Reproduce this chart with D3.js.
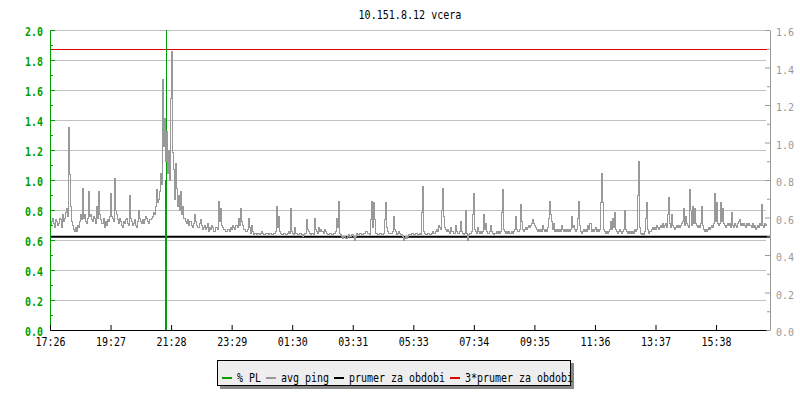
<!DOCTYPE html>
<html>
<head>
<meta charset="utf-8">
<script src="https://cdn.jsdelivr.net/npm/d3@7"></script>
<style>
  html, body { margin: 0; padding: 0; background: #fff; }
  svg { display: block; }
</style>
</head>
<body>
<svg id="chart" width="800" height="400"></svg>
<script>
var title = '10.151.8.12 vcera';
var timeLabels = ['17:26', '19:27', '21:28', '23:29', '01:30', '03:31', '05:33', '07:34', '09:35', '11:36', '13:37', '15:38'];
var tickStep = 121.1;   // minutes between time labels
var sampleStep = 2;     // minutes between ping samples
var leftTicks = [0, 0.2, 0.4, 0.6, 0.8, 1.0, 1.2, 1.4, 1.6, 1.8, 2.0];
var leftMinor = [0.1, 0.3, 0.5, 0.7, 0.9, 1.1, 1.3, 1.5, 1.7, 1.9];
var rightTicks = [0, 0.2, 0.4, 0.6, 0.8, 1.0, 1.2, 1.4, 1.6];
var rightMinor = [0.1, 0.3, 0.5, 0.7, 0.9, 1.1, 1.3, 1.5];

// avg ping (right axis), one value per sample
var ping = [
  0.56,0.58,0.60,0.57,0.55,0.59,0.58,0.56,0.57,0.60,0.59,0.55,0.62,0.58,0.60,0.63,0.65,0.61,1.08,0.83,
  0.66,0.58,0.56,0.54,0.53,0.55,0.53,0.56,0.55,0.58,0.62,0.59,0.76,0.60,0.62,0.58,0.57,0.60,0.74,0.61,
  0.62,0.59,0.58,0.61,0.60,0.57,0.66,0.60,0.74,0.62,0.59,0.57,0.57,0.60,0.55,0.58,0.56,0.59,0.58,0.61,
  0.73,0.61,0.60,0.58,0.81,0.64,0.62,0.59,0.57,0.60,0.58,0.56,0.55,0.58,0.57,0.59,0.60,0.57,0.56,0.72,
  0.60,0.58,0.56,0.57,0.59,0.56,0.55,0.58,0.64,0.60,0.58,0.57,0.59,0.57,0.59,0.61,0.60,0.58,0.57,0.59,
  0.59,0.60,0.61,0.63,0.62,0.66,0.75,0.68,0.70,0.74,0.84,0.78,1.34,0.98,1.13,0.90,1.06,0.84,0.96,0.80,
  1.24,1.49,0.95,0.86,0.70,0.89,0.76,0.66,0.72,0.64,0.74,0.62,0.66,0.60,0.60,0.58,0.57,0.59,0.56,0.58,
  0.58,0.56,0.55,0.57,0.62,0.58,0.56,0.55,0.55,0.57,0.59,0.56,0.54,0.55,0.56,0.54,0.55,0.57,0.53,0.55,
  0.54,0.56,0.55,0.53,0.53,0.55,0.55,0.54,0.69,0.58,0.65,0.56,0.55,0.54,0.54,0.53,0.53,0.54,0.54,0.53,
  0.55,0.54,0.56,0.55,0.54,0.56,0.56,0.55,0.60,0.56,0.65,0.58,0.56,0.54,0.54,0.53,0.53,0.54,0.60,0.55,
  0.52,0.56,0.53,0.51,0.52,0.52,0.51,0.52,0.52,0.51,0.52,0.53,0.52,0.51,0.51,0.52,0.52,0.52,0.51,0.52,
  0.52,0.51,0.51,0.52,0.52,0.53,0.66,0.55,0.61,0.53,0.52,0.51,0.51,0.52,0.52,0.51,0.51,0.52,0.53,0.52,
  0.65,0.53,0.52,0.51,0.55,0.52,0.52,0.51,0.51,0.52,0.52,0.51,0.50,0.51,0.52,0.52,0.59,0.54,0.53,0.52,
  0.51,0.52,0.52,0.51,0.60,0.54,0.53,0.52,0.55,0.53,0.54,0.53,0.53,0.52,0.54,0.53,0.52,0.51,0.51,0.52,
  0.52,0.51,0.51,0.52,0.52,0.53,0.60,0.55,0.69,0.52,0.51,0.50,0.49,0.50,0.50,0.49,0.49,0.50,0.51,0.50,
  0.50,0.51,0.51,0.50,0.48,0.50,0.52,0.51,0.51,0.52,0.52,0.51,0.51,0.52,0.52,0.53,0.53,0.52,0.52,0.51,
  0.59,0.69,0.55,0.68,0.59,0.52,0.52,0.51,0.51,0.52,0.52,0.51,0.51,0.52,0.59,0.68,0.55,0.53,0.52,0.52,
  0.52,0.52,0.53,0.61,0.54,0.53,0.51,0.52,0.53,0.52,0.51,0.51,0.50,0.48,0.49,0.50,0.49,0.50,0.51,0.51,
  0.51,0.52,0.52,0.51,0.51,0.52,0.52,0.51,0.51,0.52,0.51,0.63,0.77,0.53,0.52,0.51,0.51,0.52,0.52,0.51,
  0.51,0.52,0.53,0.52,0.52,0.53,0.54,0.53,0.56,0.55,0.54,0.64,0.76,0.61,0.55,0.54,0.53,0.54,0.53,0.52,
  0.55,0.53,0.53,0.52,0.52,0.56,0.53,0.52,0.52,0.53,0.58,0.53,0.52,0.51,0.52,0.64,0.52,0.48,0.51,0.52,
  0.52,0.53,0.62,0.73,0.54,0.53,0.52,0.55,0.53,0.52,0.53,0.52,0.53,0.62,0.54,0.57,0.53,0.52,0.52,0.53,
  0.56,0.53,0.52,0.51,0.52,0.52,0.53,0.52,0.53,0.52,0.53,0.63,0.75,0.54,0.53,0.52,0.53,0.52,0.53,0.52,
  0.52,0.53,0.52,0.53,0.54,0.61,0.54,0.53,0.53,0.54,0.67,0.58,0.54,0.53,0.54,0.55,0.54,0.55,0.56,0.55,
  0.56,0.57,0.59,0.57,0.56,0.55,0.54,0.53,0.54,0.53,0.54,0.53,0.56,0.54,0.53,0.54,0.53,0.55,0.60,0.69,
  0.62,0.58,0.54,0.57,0.53,0.54,0.53,0.54,0.53,0.54,0.53,0.56,0.54,0.53,0.54,0.53,0.54,0.53,0.54,0.53,
  0.54,0.61,0.55,0.56,0.54,0.53,0.54,0.60,0.69,0.56,0.53,0.52,0.53,0.54,0.53,0.54,0.53,0.56,0.54,0.57,
  0.57,0.53,0.54,0.53,0.54,0.55,0.53,0.54,0.53,0.54,0.68,0.84,0.68,0.54,0.53,0.52,0.53,0.52,0.53,0.54,
  0.58,0.54,0.60,0.55,0.63,0.54,0.53,0.52,0.53,0.54,0.53,0.52,0.53,0.54,0.64,0.54,0.53,0.52,0.53,0.52,
  0.53,0.52,0.53,0.52,0.54,0.53,0.54,0.72,0.90,0.55,0.52,0.51,0.52,0.51,0.53,0.60,0.68,0.54,0.52,0.53,
  0.53,0.54,0.55,0.54,0.55,0.54,0.56,0.55,0.54,0.55,0.56,0.55,0.57,0.55,0.56,0.57,0.55,0.62,0.71,0.57,
  0.55,0.62,0.56,0.55,0.54,0.55,0.56,0.55,0.56,0.55,0.56,0.57,0.58,0.65,0.56,0.61,0.57,0.56,0.55,0.75,
  0.64,0.56,0.66,0.57,0.65,0.57,0.56,0.55,0.56,0.55,0.57,0.66,0.56,0.54,0.53,0.54,0.53,0.54,0.55,0.54,
  0.55,0.56,0.55,0.57,0.73,0.58,0.68,0.57,0.56,0.57,0.68,0.58,0.65,0.57,0.56,0.55,0.56,0.57,0.56,0.57,
  0.55,0.63,0.56,0.55,0.57,0.56,0.55,0.57,0.58,0.59,0.56,0.57,0.56,0.57,0.56,0.55,0.57,0.56,0.57,0.56,
  0.56,0.55,0.57,0.55,0.56,0.54,0.55,0.56,0.55,0.57,0.56,0.67,0.56,0.55,0.57,0.56,0.57
];
// % PL (left axis), only the non-zero samples
var plTimes = [230, 232];
var plValues = [1.0, 3.0];
var pingMean = 0.498;

var legendLabels = ['% PL', 'avg ping', 'prumer za obdobi', '3*prumer za obdobi'];
var GREEN = '#00a000', GREY = '#999999', RED = '#e00000', GRID = '#c0c0c0';
var legendColors = [GREEN, GREY, '#000000', RED];

var FONT = '"DejaVu Sans Mono", monospace';
var svg = d3.select('#chart');

var x = d3.scaleLinear().domain([0, (ping.length - 1) * sampleStep]).range([50, 766]);
var yL = d3.scaleLinear().domain([0, 2]).range([330, 30]).clamp(true);
var yR = d3.scaleLinear().domain([0, 1.6]).range([330, 30]);

// squeeze the monospace glyphs to the narrow bitmap-like width of the original
function squeeze(sel, w) {
  sel.attr('textLength', function () { return this.textContent.length * w; })
    .attr('lengthAdjust', 'spacingAndGlyphs');
}

// title
svg.append('text').attr('x', 410).attr('y', 18.5).attr('text-anchor', 'middle')
  .attr('font-family', FONT).attr('font-size', 12).attr('fill', '#000').text(title)
  .call(squeeze, 6.05);

// grid
svg.append('g').selectAll('line').data(leftTicks.slice(1)).enter().append('line')
  .attr('x1', 50).attr('x2', 766)
  .attr('y1', function (d) { return Math.round(yL(d)) + 0.5; })
  .attr('y2', function (d) { return Math.round(yL(d)) + 0.5; })
  .attr('stroke', GRID).attr('stroke-width', 1);

// mean and 3*mean
svg.append('line').attr('x1', 50).attr('x2', 770).attr('y1', yR(pingMean)).attr('y2', yR(pingMean))
  .attr('stroke', '#000').attr('stroke-width', 2);
svg.append('line').attr('x1', 50).attr('x2', 767)
  .attr('y1', Math.round(yR(3 * pingMean)) - 0.5).attr('y2', Math.round(yR(3 * pingMean)) - 0.5)
  .attr('stroke', RED).attr('stroke-width', 1);

// % PL
svg.append('g').selectAll('line').data(plTimes).enter().append('line')
  .attr('x1', function (d) { return Math.floor(x(d)) + 0.5; })
  .attr('x2', function (d) { return Math.floor(x(d)) + 0.5; })
  .attr('y1', yL(0))
  .attr('y2', function (d, i) { return yL(plValues[i]); })
  .attr('stroke', GREEN).attr('stroke-width', 1);

// avg ping
var line = d3.line()
  .x(function (d, i) { return x(i * sampleStep) + 0.5; })
  .y(function (d) { return Math.round(yR(d)) + 0.5; })
  .curve(d3.curveStepAfter);
svg.append('path').datum(ping).attr('d', line)
  .attr('fill', 'none').attr('stroke', GREY).attr('stroke-width', 1)
  .attr('shape-rendering', 'crispEdges');

// left axis (green)
var gL = svg.append('g').attr('transform', 'translate(50,0)')
  .call(d3.axisLeft(yL).tickValues(leftTicks).tickSize(-5).tickSizeOuter(0).tickPadding(7)
    .tickFormat(d3.format('.1f')));
svg.append('g').attr('transform', 'translate(50,0)')
  .call(d3.axisLeft(yL).tickValues(leftMinor).tickSize(-3).tickFormat(''))
  .call(function (g) { g.select('.domain').remove(); })
  .selectAll('line').attr('stroke', GREEN);
gL.selectAll('line, path').attr('stroke', GREEN);
gL.selectAll('text').attr('fill', GREEN).attr('font-family', FONT).attr('font-size', 12)
  .attr('font-weight', 'bold').attr('dy', '0.46em').call(squeeze, 6);

// right axis (grey)
var gR = svg.append('g').attr('transform', 'translate(770,0)')
  .call(d3.axisRight(yR).tickValues(rightTicks).tickSize(-5).tickSizeOuter(0).tickPadding(6)
    .tickFormat(d3.format('.1f')));
svg.append('g').attr('transform', 'translate(770,0)')
  .call(d3.axisRight(yR).tickValues(rightMinor).tickSize(-3).tickFormat(''))
  .call(function (g) { g.select('.domain').remove(); })
  .selectAll('line').attr('stroke', GREY);
gR.selectAll('line, path').attr('stroke', GREY);
gR.selectAll('text').attr('fill', GREY).attr('font-family', FONT).attr('font-size', 10)
  .attr('dy', '0.55em');

// time axis
var gX = svg.append('g').attr('transform', 'translate(0,330)')
  .call(d3.axisBottom(x).tickValues(timeLabels.map(function (d, i) { return i * tickStep; }))
    .tickFormat(function (d, i) { return timeLabels[i]; })
    .tickSize(-5).tickSizeOuter(0).tickPadding(7));
gX.selectAll('line, path').attr('stroke', '#000');
gX.selectAll('text').attr('fill', '#000').attr('font-family', FONT).attr('font-size', 12)
  .call(squeeze, 6);

// legend
var lg = svg.append('g');
lg.append('rect').attr('x', 220).attr('y', 363).attr('width', 354).attr('height', 26).attr('fill', '#888');
lg.append('rect').attr('x', 217.5).attr('y', 360.5).attr('width', 353).attr('height', 25)
  .attr('fill', '#eeeeee').attr('stroke', '#000').attr('stroke-width', 1);
var lx = 222;
legendLabels.forEach(function (lab, i) {
  lg.append('line').attr('x1', lx).attr('x2', lx + 10).attr('y1', 378).attr('y2', 378)
    .attr('stroke', legendColors[i]).attr('stroke-width', 2);
  lg.append('text').attr('x', lx + 15).attr('y', 382).attr('font-family', FONT).attr('font-size', 12)
    .attr('fill', '#000').text(lab).call(squeeze, 6);
  lx += 15 + lab.length * 6 + 5;
});
</script>
</body>
</html>
